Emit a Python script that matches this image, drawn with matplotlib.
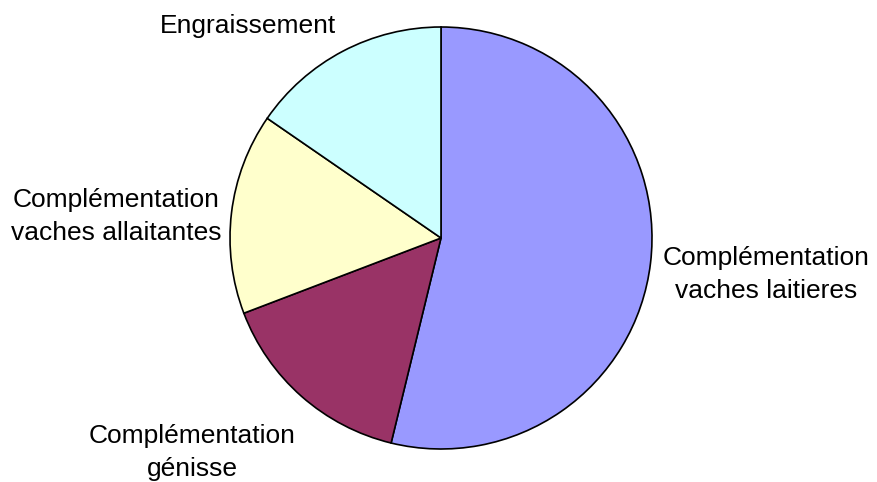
import matplotlib
matplotlib.use("Agg")
import matplotlib.pyplot as plt

categories = ["Complémentation\nvaches laitieres", "Complémentation\ngénisse",
              "Complémentation\nvaches allaitantes", "Engraissement"]
values = [53.8, 15.4, 15.4, 15.4]
colors = ["#9999FF", "#993366", "#FFFFCC", "#CCFFFF"]

W, H = 877, 482
fig = plt.figure(figsize=(W / 100, H / 100), dpi=100)
cx, cy, r = 441, 238, 211
ax = fig.add_axes([(cx - r) / W, (H - cy - r) / H, 2 * r / W, 2 * r / H])
ax.pie(values, colors=colors, startangle=90, counterclock=False, radius=1,
       wedgeprops=dict(edgecolor="black", linewidth=1.2))
ax.set_xlim(-1, 1)
ax.set_ylim(-1, 1)
ax.set_aspect("equal")
ax.axis("off")

# label anchor points (pixel positions of last-line baselines)
label_px = [(766, 298), (192, 476), (116.5, 240), (248, 33)]
for lab, (px, py) in zip(categories, label_px):
    ax.text((px - cx) / r, (cy - py) / r, lab, ha="center", va="baseline",
            multialignment="center", fontsize=19, family="Liberation Sans",
            linespacing=1.5, clip_on=False)

fig.savefig("out.png", dpi=100)
